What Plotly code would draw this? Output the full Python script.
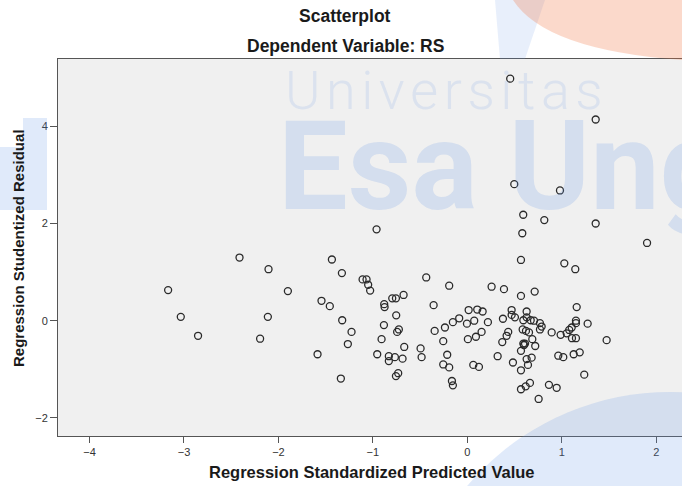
import plotly.graph_objects as go

# Regression Standardized Predicted Value (x) and Regression Studentized Residual (y)
pred = [
    0.454, 1.359, 0.497, 0.981, 0.592, 0.815, 1.359, 0.582, -0.961, 1.903,
    -2.412, -1.434, 0.568, 1.027, 1.143, -2.105, -1.328,
    -1.109, -1.067, -1.050, -1.029,
    -3.168, -1.900, -1.544, -1.456, -3.034, -2.112, -1.325, -1.226, -2.851, -2.194,
    -1.265, -1.586, -1.339,
    -0.435, -0.192, 0.257, 0.388, 0.568, 0.713, -0.795, -0.756, -0.675, -0.880,
    -0.876, -0.357, -0.753, 1.158, -0.883, -0.725, -0.743, -0.908, -0.346, -0.237,
    -0.153, -0.086, 0.014, 0.105, 0.162, -0.004, 0.073, 0.218, -0.255, 0.006,
    0.091, 0.151, 0.377, 0.469, 0.469, 0.504, 0.628, 0.593, 0.628, 0.671,
    0.706, 0.586, 0.621, 0.653, 0.769, 0.787, 0.769, 0.433, 0.416, 0.370,
    0.593, 0.611, 0.600, 0.688, 0.719, 0.568, 0.893, 0.988, 1.052, 1.079,
    1.105, 1.150, 1.150, 1.274, 1.108, 1.150, 1.475, -0.954, -0.831, -0.831,
    -0.767, -0.686, -0.668, -0.732, -0.756, -0.495, -0.484, -0.213, -0.255, -0.192,
    -0.163, -0.153, 0.063, 0.123, 0.321, 0.483, 0.628, 0.681, 0.642, 0.568,
    0.568, 0.618, 0.663, 0.755, 0.864, 0.946, 0.963, 1.016, 1.126, 1.190,
    1.238,
]
resid = [
    4.98, 4.14, 2.81, 2.68, 2.18, 2.07, 2.00, 1.80, 1.88, 1.60,
    1.30, 1.26, 1.25, 1.18, 1.06, 1.06, 0.98,
    0.85, 0.85, 0.74, 0.62,
    0.63, 0.61, 0.41, 0.30, 0.08, 0.08, 0.01, -0.23, -0.31, -0.37,
    -0.48, -0.69, -1.19,
    0.89, 0.72, 0.70, 0.65, 0.51, 0.60, 0.46, 0.46, 0.53, 0.34,
    0.28, 0.32, 0.11, 0.28, -0.09, -0.18, -0.23, -0.38, -0.21, -0.14,
    -0.03, 0.05, 0.22, 0.23, 0.19, -0.06, 0.00, -0.03, -0.42, -0.38,
    -0.33, -0.23, 0.04, 0.22, 0.12, 0.07, 0.19, 0.01, 0.07, 0.01,
    0.00, -0.18, -0.21, -0.24, -0.05, -0.12, -0.18, -0.23, -0.31, -0.44,
    -0.47, -0.47, -0.50, -0.38, -0.52, -0.62, -0.24, -0.29, -0.26, -0.19,
    -0.14, -0.05, 0.00, -0.06, -0.36, -0.36, -0.40, -0.69, -0.73, -0.83,
    -0.75, -0.78, -0.54, -1.08, -1.14, -0.57, -0.75, -0.70, -0.90, -0.96,
    -1.24, -1.33, -0.91, -0.95, -0.73, -0.86, -0.79, -0.76, -0.91, -1.02,
    -1.41, -1.35, -1.28, -1.61, -1.32, -1.38, -0.72, -0.75, -0.69, -0.65,
    -1.11,
]

x_ticks = [-4, -3, -2, -1, 0, 1, 2]
y_ticks = [-2, 0, 2, 4]

title_main = "Scatterplot"
title_sub = "Dependent Variable: RS"
x_title = "Regression Standardized Predicted Value"
y_title = "Regression Studentized Residual"
wm_line1 = "Universitas"
wm_line2 = "Esa Ung"

W, H = 682, 486
L, R, T, B = 58, 0, 59, 50
pw, ph = W - L - R, H - T - B

def px(x):
    return (x - L) / pw

def py(y):
    return (H - B - y) / ph

FONT = "Liberation Sans, Arial, sans-serif"
wm = "rgba(100,150,230,0.2)"
wm_light = "rgba(100,150,230,0.15)"

fig = go.Figure()
fig.add_trace(go.Scatter(
    x=pred, y=resid, mode="markers",
    marker=dict(symbol="circle-open", size=7, color="#2a2a2a", line=dict(width=1.3)),
    showlegend=False, hoverinfo="x+y",
))

ann = [
    dict(text="<b>%s</b>" % title_main, x=px(345), y=py(16), xref="paper", yref="paper",
         showarrow=False, font=dict(size=17.5, color="#1a1a1a", family=FONT), xanchor="center", yanchor="middle"),
    dict(text="<b>%s</b>" % title_sub, x=px(345), y=py(46), xref="paper", yref="paper",
         showarrow=False, font=dict(size=17.5, color="#1a1a1a", family=FONT), xanchor="center", yanchor="middle"),
    dict(text="<b>%s</b>" % x_title, x=px(372), y=py(472), xref="paper", yref="paper",
         showarrow=False, font=dict(size=16.5, color="#1a1a1a", family=FONT), xanchor="center", yanchor="middle"),
    dict(text="<b>%s</b>" % y_title, x=px(18), y=py(248), xref="paper", yref="paper",
         showarrow=False, textangle=-90, font=dict(size=15, color="#1a1a1a", family=FONT),
         xanchor="center", yanchor="middle"),
    # watermark
    dict(text="\u200a".join(wm_line1), x=px(283), y=py(90), xref="paper", yref="paper", showarrow=False,
         font=dict(size=54, color=wm_light, family="Roboto, " + FONT, weight=300),
         xanchor="left", yanchor="middle"),
    dict(text="<b>%s</b>" % wm_line2, x=px(276), y=py(166), xref="paper", yref="paper", showarrow=False,
         font=dict(size=124, color=wm, family="Roboto, " + FONT), xanchor="left", yanchor="middle"),
]

shapes = [
    # bottom-right logo arc
    dict(type="circle", xref="paper", yref="paper", x0=px(670 - 266), x1=px(670 + 266),
         y0=py(658 + 266), y1=py(658 - 266), fillcolor=wm, line=dict(width=0), layer="above"),
    # left blue blocks
    dict(type="rect", xref="paper", yref="paper", x0=px(0), x1=px(47), y0=py(210), y1=py(147),
         fillcolor=wm, line=dict(width=0), layer="above"),
    dict(type="rect", xref="paper", yref="paper", x0=px(23), x1=px(47), y0=py(147), y1=py(118),
         fillcolor=wm, line=dict(width=0), layer="above"),
    # blue wedge in title area
    dict(type="path", xref="paper", yref="paper",
         path="M %f %f L %f %f L %f %f L %f %f Z" % (
             px(495), py(0), px(545), py(0), px(525), py(59), px(500), py(59)),
         fillcolor=wm_light, line=dict(width=0), layer="above"),
    # orange swoosh top right
    dict(type="path", xref="paper", yref="paper",
         path="M %f %f Q %f %f %f %f L %f %f L %f %f Z" % (
             px(513), py(0), px(545), py(50), px(682), py(60),
             px(682), py(0), px(513), py(0)),
         fillcolor="rgba(240,120,70,0.28)", line=dict(width=0), layer="above"),
]

fig.update_layout(
    width=W, height=H,
    margin=dict(l=L, r=R, t=T, b=B),
    paper_bgcolor="white", plot_bgcolor="#f0f0f0",
    font=dict(family=FONT, color="#333"),
    annotations=ann, shapes=shapes,
)
fig.update_xaxes(range=[-4.334, 2.273], tickvals=x_ticks, ticks="outside", ticklen=6,
                 tickcolor="#555", showgrid=False, zeroline=False, showline=True,
                 linecolor="#555", linewidth=1, mirror=True, tickfont=dict(size=11, color="#333"))
fig.update_yaxes(range=[-2.372, 5.385], tickvals=y_ticks, ticks="outside", ticklen=7,
                 tickcolor="#555", showgrid=False, zeroline=False, showline=True,
                 linecolor="#555", linewidth=1, mirror=True, tickfont=dict(size=11, color="#333"))

fig.write_html("out.html", config={"displayModeBar": False},
               post_script="document.body.style.margin='0';document.body.style.overflow='hidden';")
